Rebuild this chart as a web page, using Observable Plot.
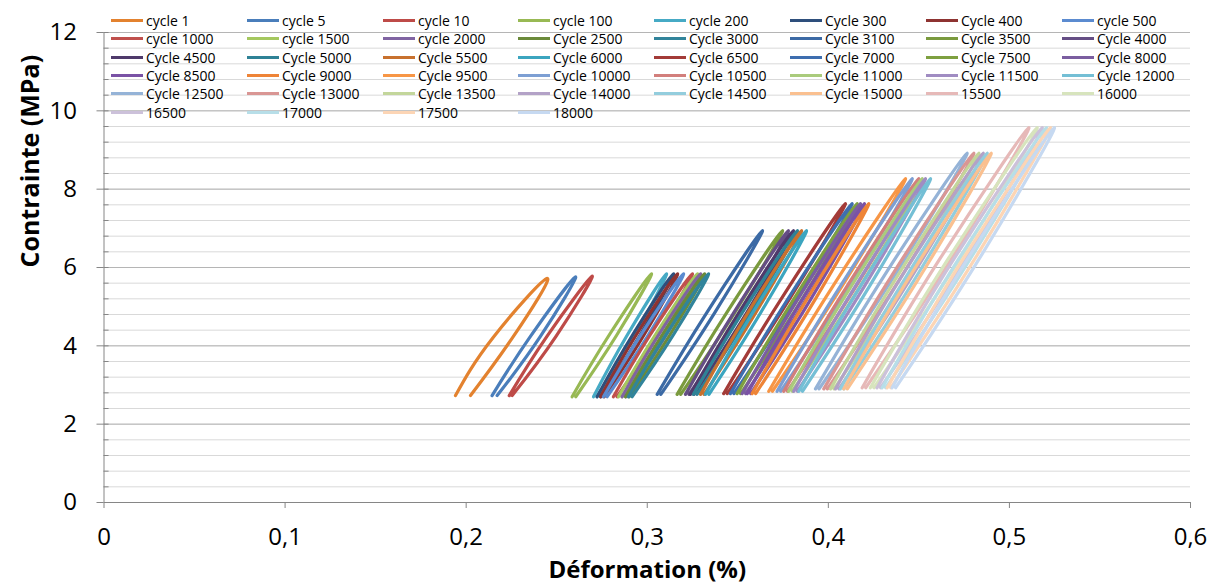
<!DOCTYPE html>
<html><head><meta charset="utf-8">
<script src="https://cdn.jsdelivr.net/npm/d3@7"></script>
<script src="https://cdn.jsdelivr.net/npm/@observablehq/plot@0.6"></script>
<style>
html,body{margin:0;padding:0;background:#fff;}
#wrap{position:relative;width:1215px;height:585px;font-family:"Open Sans",sans-serif;overflow:hidden;}
#legend{position:absolute;left:0;top:0;width:1215px;height:130px;pointer-events:none;}
.item{position:absolute;display:flex;align-items:center;height:18px;font-size:14px;color:#000;white-space:nowrap;}
.sw{width:32px;height:3px;margin-right:3px;flex:none;}
</style></head><body><div id="wrap"><div id="chart"></div><div id="legend"></div></div>
<script>
// ---- data ----
const seriesNames = [
  "cycle 1","cycle 5","cycle 10","cycle 100","cycle 200","Cycle 300","Cycle 400","cycle 500",
  "cycle 1000","cycle 1500","cycle 2000","Cycle 2500","Cycle 3000","Cycle 3100","Cycle 3500","Cycle 4000",
  "Cycle 4500","Cycle 5000","Cycle 5500","Cycle 6000","Cycle 6500","Cycle 7000","Cycle 7500","Cycle 8000",
  "Cycle 8500","Cycle 9000","Cycle 9500","Cycle 10000","Cycle 10500","Cycle 11000","Cycle 11500","Cycle 12000",
  "Cycle 12500","Cycle 13000","Cycle 13500","Cycle 14000","Cycle 14500","Cycle 15000","15500","16000",
  "16500","17000","17500","18000"
];
const seriesColors = [
  "#E3822F","#4A7EBB","#BE4B48","#98B954","#46AAC5","#2E4F7C","#8E3331","#5B8BD0",
  "#C0504D","#A5C85F","#8064A2","#6B8A3A","#31849B","#3C6AA5","#7A9A3E","#654E85",
  "#4F3A6B","#2F8296","#C8712E","#3CA5BF","#A33B38","#3E6EAF","#7EA040","#7B5EA0",
  "#7A52A5","#EE8437","#F79646","#7D9FD3","#D27F7C","#AACB7C","#A08CC2","#74BFD5",
  "#95B3D7","#D99694","#C3D69B","#B3A2C7","#93CDDD","#FAC090","#E6B9B8","#D7E4BD",
  "#CCC1DA","#B7DEE8","#FCD5B5","#C6D9F1"
];
// strain (%) along each loop: start (bottom), loading branch mid-height, top, unloading branch mid-height, end (bottom)
const xStart = [0.1941,0.2143,0.2238,
  0.2585,0.2703,0.2723,0.2742,0.2758,0.2813,0.2841,0.2861,0.2880,0.2896,
  0.3055,0.3165,0.3211,0.3238,0.3255,0.3294,0.3321,
  0.3422,0.3459,0.3496,0.3524,0.3552,0.3579,
  0.3671,0.3717,0.3754,0.3781,0.3809,0.3837,
  0.3929,0.3975,0.4012,0.4039,0.4066,0.4085,
  0.4187,0.4232,0.4269,0.4297,0.4325,0.4352];
const xLoadMid = [0.2150,0.2355,0.2447,
  0.2789,0.2889,0.2918,0.2938,0.2963,0.3015,0.3043,0.3062,0.3082,0.3101,
  0.3329,0.3439,0.3478,0.3506,0.3525,0.3556,0.3583,
  0.3740,0.3777,0.3810,0.3833,0.3858,0.3883,
  0.4029,0.4070,0.4107,0.4130,0.4153,0.4181,
  0.4325,0.4366,0.4399,0.4424,0.4449,0.4469,
  0.4620,0.4666,0.4698,0.4724,0.4749,0.4773];
const xTop = [0.2448,0.2604,0.2696,
  0.3023,0.3106,0.3145,0.3167,0.3200,0.3249,0.3277,0.3294,0.3316,0.3338,
  0.3636,0.3747,0.3779,0.3807,0.3829,0.3852,0.3879,
  0.4094,0.4131,0.4159,0.4177,0.4199,0.4223,
  0.4426,0.4463,0.4499,0.4518,0.4536,0.4564,
  0.4766,0.4803,0.4831,0.4855,0.4877,0.4899,
  0.5107,0.5153,0.5181,0.5204,0.5226,0.5248];
const xUnloadMid = [0.2258,0.2410,0.2497,
  0.2831,0.2931,0.2960,0.2981,0.3005,0.3057,0.3085,0.3104,0.3124,0.3143,
  0.3373,0.3483,0.3522,0.3550,0.3569,0.3600,0.3627,
  0.3786,0.3823,0.3856,0.3879,0.3904,0.3929,
  0.4079,0.4120,0.4157,0.4180,0.4203,0.4231,
  0.4381,0.4422,0.4455,0.4480,0.4505,0.4525,
  0.4684,0.4730,0.4762,0.4788,0.4813,0.4837];
const xEnd = [0.2024,0.2171,0.2254,
  0.2605,0.2723,0.2743,0.2762,0.2778,0.2833,0.2861,0.2881,0.2900,0.2916,
  0.3075,0.3185,0.3231,0.3258,0.3275,0.3314,0.3341,
  0.3442,0.3479,0.3516,0.3544,0.3572,0.3599,
  0.3691,0.3737,0.3774,0.3801,0.3829,0.3857,
  0.3949,0.3995,0.4032,0.4059,0.4086,0.4105,
  0.4207,0.4252,0.4289,0.4317,0.4345,0.4372];
// stress (MPa)
const yBottom = [2.73,2.73,2.73,
  2.70,2.70,2.70,2.70,2.70,2.70,2.70,2.70,2.70,2.70,
  2.76,2.76,2.76,2.76,2.76,2.76,2.76,
  2.78,2.78,2.78,2.78,2.78,2.78,
  2.84,2.84,2.84,2.84,2.84,2.84,
  2.90,2.90,2.90,2.90,2.90,2.90,
  2.93,2.93,2.93,2.93,2.93,2.93];
const yMid = [4.22,4.24,4.25,
  4.27,4.27,4.27,4.27,4.27,4.27,4.27,4.27,4.27,4.27,
  4.85,4.85,4.85,4.85,4.85,4.85,4.85,
  5.20,5.20,5.20,5.20,5.20,5.20,
  5.55,5.55,5.55,5.55,5.55,5.55,
  5.91,5.91,5.91,5.91,5.91,5.91,
  6.25,6.25,6.25,6.25,6.25,6.25];
const yTop = [5.72,5.76,5.78,
  5.84,5.84,5.84,5.84,5.84,5.84,5.84,5.84,5.84,5.84,
  6.94,6.94,6.94,6.94,6.94,6.94,6.94,
  7.63,7.63,7.63,7.63,7.63,7.63,
  8.27,8.27,8.27,8.27,8.27,8.27,
  8.92,8.92,8.92,8.92,8.92,8.92,
  9.57,9.57,9.57,9.57,9.57,9.57];
const xTicks = [0, 0.1, 0.2, 0.3, 0.4, 0.5, 0.6];
const xTickLabels = ["0","0,1","0,2","0,3","0,4","0,5","0,6"];
const yTicks = [0, 2, 4, 6, 8, 10, 12];
const yMinor = [0.4,0.8,1.2,1.6,2,2.4,2.8,3.2,3.6,4,4.4,4.8,5.2,5.6,6,6.4,6.8,7.2,7.6,8,8.4,8.8,9.2,9.6,10,10.4,10.8,11.2,11.6,12];
const xTitle = "Déformation (%)";
const yTitle = "Contrainte (MPa)";

// ---- build ----
const loops = seriesNames.map((name, i) => [
  {x: xStart[i], y: yBottom[i]},
  {x: xLoadMid[i], y: yMid[i]},
  {x: xTop[i], y: yTop[i]},
  {x: xUnloadMid[i], y: yMid[i]},
  {x: xEnd[i], y: yBottom[i]}
]);

const lineMarks = loops.map((pts, i) => Plot.line(pts, {
  x: "x", y: "y", stroke: seriesColors[i], strokeWidth: 3.2,
  curve: "natural", strokeLinecap: "round", strokeLinejoin: "round"
}));

const chart = Plot.plot({
  width: 1215, height: 585,
  marginLeft: 103.5, marginRight: 25, marginTop: 32, marginBottom: 83,
  style: {fontFamily: "'Open Sans', sans-serif", background: "#fff", color: "#000", overflow: "visible"},
  x: {domain: [0, 0.6]},
  y: {domain: [0, 12]},
  marks: [
    Plot.ruleY(yMinor, {stroke: "#d9d9d9", strokeWidth: 1}),
    Plot.ruleY(yTicks.filter(v => v > 0), {stroke: "#b5b5b5", strokeWidth: 1}),
    ...lineMarks,
    Plot.ruleY([0], {stroke: "#868686"}),
    Plot.ruleX([0], {y1: 0, y2: 12, stroke: "#868686"}),
    Plot.ruleY(yMinor, {x1: 0, x2: 0.0028, stroke: "#868686"}),
    Plot.axisY({ticks: yTicks, tickSize: 7, tickPadding: 20, fontSize: 24, tickFormat: d => String(d), stroke: "#868686", fill: "#000", label: null}),
    Plot.axisX({ticks: xTicks, tickSize: 6, tickPadding: 19, fontSize: 24, tickFormat: d => xTickLabels[xTicks.indexOf(d)], stroke: "#868686", fill: "#000", label: null}),
    Plot.text([yTitle], {text: d => d, frameAnchor: "left", dx: -73.5, rotate: -90, fontSize: 25, fontWeight: "bold", fill: "#000"}),
    Plot.text([xTitle], {text: d => d, frameAnchor: "bottom", dy: 75, fontSize: 24, fontWeight: "bold", fill: "#000"})
  ]
});
document.getElementById("chart").appendChild(chart);

// legend (overlaid on plot area like the original)
const colX = [111, 247, 383, 518, 654, 790, 926, 1062];
const rowY = [20.5, 38.8, 57.1, 75.4, 93.7, 112];
const legend = d3.select("#legend");
seriesNames.forEach((name, i) => {
  const r = Math.floor(i / 8), c = i % 8;
  const it = legend.append("div").attr("class", "item")
    .style("left", colX[c] + "px").style("top", (rowY[r] - 9) + "px");
  it.append("div").attr("class", "sw").style("background", seriesColors[i]);
  it.append("span").text(name);
});
</script></body></html>
